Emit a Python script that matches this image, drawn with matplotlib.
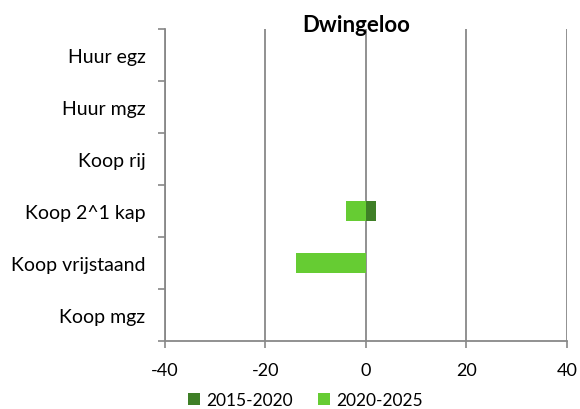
import matplotlib
matplotlib.use("Agg")
import matplotlib.pyplot as plt
import numpy as np

categories = ["Huur egz", "Huur mgz", "Koop rij", "Koop 2^1 kap", "Koop vrijstaand", "Koop mgz"]
series_names = ["2015-2020", "2020-2025"]
values_2015_2020 = [0, 0, 0, 2, 0, 0]
values_2020_2025 = [0, 0, 0, -4, -14, 0]
x_ticks = [-40, -20, 0, 20, 40]
colors = ["#3F7F27", "#66CC33"]

plt.rcParams["font.family"] = ["Lato", "DejaVu Sans"]

fig = plt.figure(figsize=(5.8, 4.1), dpi=100)
ax = fig.add_axes([0.2845, 0.1659, 0.693, 0.761])

y = np.arange(len(categories))
series = [np.array(values_2015_2020, float), np.array(values_2020_2025, float)]
pos_base = np.zeros(len(categories))
neg_base = np.zeros(len(categories))
for vals, name, col in zip(series, series_names, colors):
    left = np.where(vals >= 0, pos_base, neg_base)
    ax.barh(y, vals, left=left, height=0.4, color=col, label=name, zorder=3)
    pos_base += np.where(vals >= 0, vals, 0)
    neg_base += np.where(vals < 0, vals, 0)

ax.set_ylim(len(categories) - 0.5, -0.5)
ax.set_xlim(-40, 40)
ax.set_xticks(x_ticks)
ax.set_xticklabels([str(v) for v in x_ticks], fontsize=13)
ax.set_yticks(y)
ax.set_yticklabels(categories, fontsize=14)
ax.tick_params(axis="y", length=0, pad=14)
ax.tick_params(axis="x", length=5, width=1.2, color="#888888", pad=10)

# category boundary ticks on the left
ax.set_yticks(np.arange(-0.5, len(categories)), minor=True)
ax.tick_params(axis="y", which="minor", length=5, width=1.2, color="#888888")

ax.grid(axis="x", color="#888888", linewidth=1.3, zorder=0)
for s in ["top", "right"]:
    ax.spines[s].set_visible(False)
for s in ["left", "bottom"]:
    ax.spines[s].set_color("#888888")
    ax.spines[s].set_linewidth(1.3)

fig.text(0.614, 0.922, "Dwingeloo", fontsize=16, fontweight="bold",
         ha="center", va="baseline")

fig.legend(loc="center", bbox_to_anchor=(0.527, 0.022), ncol=2, frameon=False,
           fontsize=12.5, handlelength=0.69, handleheight=0.69, handletextpad=0.35,
           columnspacing=1.44, borderaxespad=0, borderpad=0)

fig.savefig("out.png", dpi=100)
